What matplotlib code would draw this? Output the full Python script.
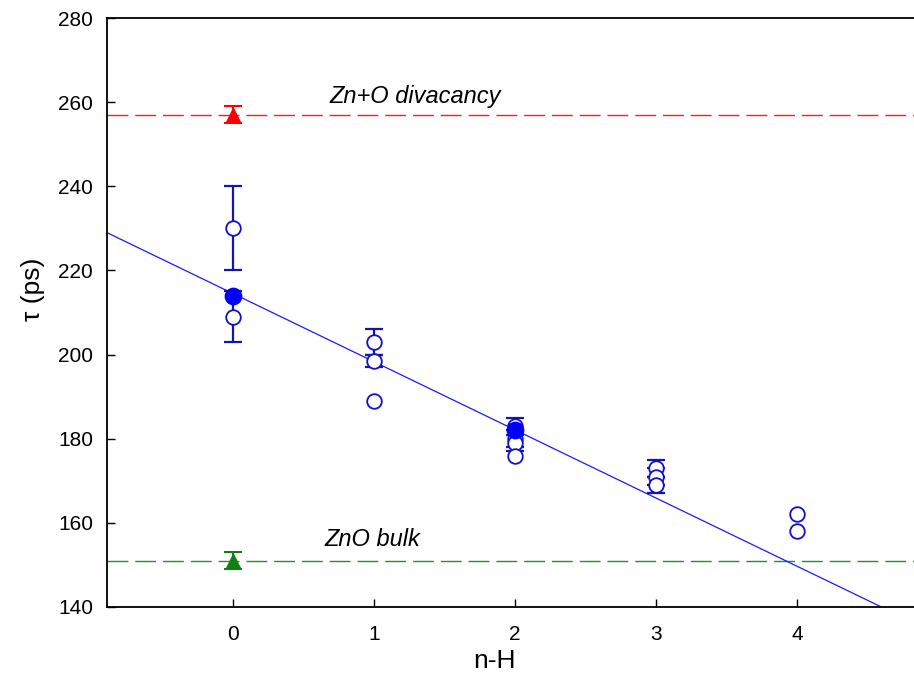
import matplotlib
matplotlib.use("Agg")
import matplotlib.pyplot as plt
import numpy as np

plt.rcParams['font.family'] = ['Liberation Sans', 'DejaVu Sans']

# open circles with error bars
open_x = [0, 0, 1, 1, 2, 2, 2, 3, 3, 3]
open_y = [230, 209, 203, 198.5, 183, 180, 179, 173, 171, 169]
open_err = [10, 6, 3, 1.5, 2, 2, 2, 2, 2, 2]
# open circles without error bars
plain_x = [1, 2, 4, 4]
plain_y = [189, 176, 162, 158]
# filled circles
filled_x = [0, 2]
filled_y = [214, 182]
# reference values
divacancy_val, divacancy_err = 257, 2
bulk_val, bulk_err = 151, 2
# linear fit
fit_intercept = 214.5
fit_slope = -16.2

fig = plt.figure(figsize=(9.14, 6.95), dpi=100)
ax = fig.add_axes([107/914, 88/695, 1 - 107/914, (607-18)/695])

xlim = (-0.894, 4.83)
ax.set_xlim(*xlim)
ax.set_ylim(140, 280)

xs = np.array(xlim)
ax.plot(xs, fit_intercept + fit_slope * xs, color='#1a1aff', lw=0.9, zorder=2)

ax.axhline(divacancy_val, color='#ff1a1a', lw=1.0, dashes=(15, 5), zorder=1)
ax.axhline(bulk_val, color='#259025', lw=1.0, dashes=(15, 5), zorder=1)

ax.errorbar(open_x, open_y, yerr=open_err, fmt='none', ecolor='#1515a8',
            elinewidth=1.6, capsize=6.5, capthick=1.6, zorder=3)
ax.plot(open_x, open_y, 'o', ms=10.5, mfc='white', mec='#1010d0', mew=1.3, zorder=4,
        ls='none')
ax.plot(plain_x, plain_y, 'o', ms=10.5, mfc='white', mec='#1010d0', mew=1.3, zorder=4,
        ls='none')
ax.plot(filled_x, filled_y, 'o', ms=11.5, mfc='#0000ff', mec='#0000ff', mew=1.3,
        zorder=5, ls='none')

ax.errorbar([0], [divacancy_val], yerr=[divacancy_err], fmt='^', ms=10,
            color='#ff0000', ecolor='#ff0000', elinewidth=1.5, capsize=6.5,
            capthick=1.5, zorder=5)
ax.errorbar([0], [bulk_val], yerr=[bulk_err], fmt='^', ms=10,
            color='#108010', ecolor='#108010', elinewidth=1.5, capsize=6.5,
            capthick=1.5, zorder=5)

ax.text(1.29, 261.3, 'Zn+O divacancy', style='italic', fontsize=17,
        ha='center', va='center')
ax.text(0.99, 156.0, 'ZnO bulk', style='italic', fontsize=17,
        ha='center', va='center')

ax.set_xticks([0, 1, 2, 3, 4])
ax.set_yticks([140, 160, 180, 200, 220, 240, 260, 280])
ax.tick_params(direction='in', length=6, width=1, labelsize=15)
ax.tick_params(axis='x', pad=13)
ax.tick_params(axis='y', pad=10)
ax.set_xlabel('n-H', fontsize=19)
ax.set_ylabel('τ (ps)', fontsize=19)
ax.xaxis.set_label_coords((494 - 107) / (914 - 107), -(649 - 607) / 589, transform=ax.transAxes)
ax.yaxis.set_label_coords(-(107 - 45) / (914 - 107), (607 - 289) / 589, transform=ax.transAxes)
ax.spines['right'].set_visible(False)
for s in ['left', 'bottom', 'top']:
    ax.spines[s].set_linewidth(1.3)

fig.savefig('out.png', dpi=100)
